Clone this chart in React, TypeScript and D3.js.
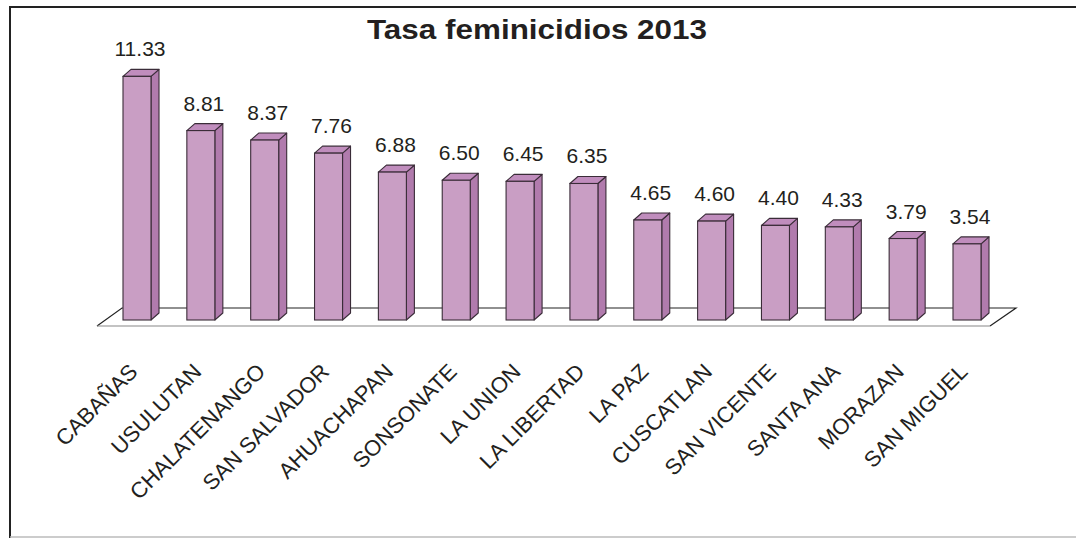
import React, { useEffect, useRef } from 'react';
import * as d3 from 'd3';

const categories = [
  'CABAÑAS', 'USULUTAN', 'CHALATENANGO', 'SAN SALVADOR', 'AHUACHAPAN', 'SONSONATE',
  'LA UNION', 'LA LIBERTAD', 'LA PAZ', 'CUSCATLAN', 'SAN VICENTE', 'SANTA ANA',
  'MORAZAN', 'SAN MIGUEL'
];
const rates = [11.33, 8.81, 8.37, 7.76, 6.88, 6.50, 6.45, 6.35, 4.65, 4.60, 4.40, 4.33, 3.79, 3.54];
const title = 'Tasa feminicidios 2013';

const W = 1076;
const H = 538;
const FONT = '"Liberation Sans", Arial, sans-serif';

const App = () => {
  const svgRef = useRef<SVGSVGElement | null>(null);

  useEffect(() => {
    if (!svgRef.current) return;
    const svg = d3.select(svgRef.current);
    svg.selectAll('*').remove();

    const x = d3.scalePoint<string>().domain(categories).range([137, 967]);
    const y = d3.scaleLinear().domain([0, 12]).range([320, 62]);
    const barW = 28;
    const dx = 8, dy = 7; // 3d depth
    const stroke = '#3a2c38';

    // frame
    svg.append('path').attr('d', `M${W + 5},7 H10 V${H}`)
      .attr('fill', 'none').attr('stroke', '#222').attr('stroke-width', 2);
    svg.append('line').attr('x1', 10).attr('x2', W).attr('y1', H - 1).attr('y2', H - 1)
      .attr('stroke', '#bbb').attr('stroke-width', 1.5);

    // title
    svg.append('text')
      .attr('x', 537).attr('y', 39)
      .attr('text-anchor', 'middle')
      .attr('textLength', 340).attr('lengthAdjust', 'spacingAndGlyphs')
      .style('font-family', FONT).style('font-weight', 'bold').style('font-size', '28px')
      .attr('fill', '#231f20')
      .text(title);

    // floor
    const base = y(0);
    const floor = svg.append('g');
    floor.append('path')
      .attr('d', `M97,${base + 6} L990,${base + 6} L1016,${base - 12} L122,${base - 12} Z`)
      .attr('fill', '#fff').attr('stroke', 'none');
    floor.append('path')
      .attr('d', `M97,${base + 6} L122,${base - 12} L1016,${base - 12} L990,${base + 6}`)
      .attr('fill', 'none').attr('stroke', '#222').attr('stroke-width', 1.2);
    floor.append('line')
      .attr('x1', 97).attr('x2', 990).attr('y1', base + 6).attr('y2', base + 6)
      .attr('stroke', '#888').attr('stroke-width', 1.2);

    // bars
    const bars = svg.append('g').selectAll('g')
      .data(categories.map((c, i) => ({ c, v: rates[i] })))
      .join('g');

    bars.append('path') // side
      .attr('d', d => {
        const x1 = (x(d.c) as number) + barW / 2;
        const t = y(d.v);
        return `M${x1},${t} L${x1 + dx},${t - dy} L${x1 + dx},${base - dy} L${x1},${base} Z`;
      })
      .attr('fill', '#b17bad').attr('stroke', stroke).attr('stroke-width', 1.1).attr('stroke-linejoin', 'round');

    bars.append('path') // top
      .attr('d', d => {
        const x0 = (x(d.c) as number) - barW / 2;
        const t = y(d.v);
        return `M${x0},${t} L${x0 + dx},${t - dy} L${x0 + barW + dx},${t - dy} L${x0 + barW},${t} Z`;
      })
      .attr('fill', '#c08dbd').attr('stroke', stroke).attr('stroke-width', 1.1).attr('stroke-linejoin', 'round');

    bars.append('rect') // front
      .attr('x', d => (x(d.c) as number) - barW / 2)
      .attr('y', d => y(d.v))
      .attr('width', barW)
      .attr('height', d => base - y(d.v))
      .attr('fill', '#c99ec4').attr('stroke', stroke).attr('stroke-width', 1.1);

    bars.append('text') // values
      .attr('x', d => (x(d.c) as number) + 3)
      .attr('y', d => y(d.v) - 20)
      .attr('text-anchor', 'middle')
      .style('font-family', FONT).style('font-size', '21px')
      .attr('fill', '#231f20')
      .text(d => d.v.toFixed(2));

    // category labels
    svg.append('g').selectAll('text')
      .data(categories)
      .join('text')
      .attr('transform', d => `translate(${(x(d) as number) + 2},373) rotate(-45)`)
      .attr('text-anchor', 'end')
      .style('font-family', FONT).style('font-size', '22px')
      .attr('fill', '#231f20')
      .text(d => d);
  }, []);

  return (
    <svg
      ref={svgRef}
      width={W}
      height={H}
      style={{ position: 'absolute', left: 0, top: 0, background: '#fff' }}
    />
  );
};

export default App;
